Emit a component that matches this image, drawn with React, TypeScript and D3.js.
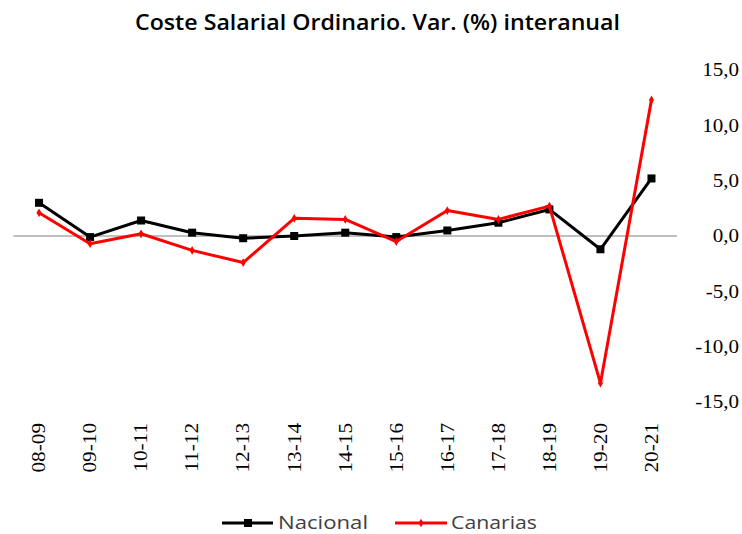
import React from 'react';
import * as d3 from 'd3';

const categories = ['08-09', '09-10', '10-11', '11-12', '12-13', '13-14', '14-15', '15-16', '16-17', '17-18', '18-19', '19-20', '20-21'];
const nacional = [3.0, -0.1, 1.4, 0.3, -0.2, 0.0, 0.3, -0.1, 0.5, 1.2, 2.4, -1.2, 5.2];
const canarias = [2.1, -0.7, 0.2, -1.3, -2.4, 1.6, 1.5, -0.5, 2.3, 1.5, 2.7, -13.3, 12.3];
const yTicks = [15, 10, 5, 0, -5, -10, -15];

const W = 742;
const H = 534;
const serif = "'Liberation Serif', 'DejaVu Serif', serif";
const sans = "'Open Sans', Lato, sans-serif";

export default function App() {
  const x = d3.scalePoint<string>()
    .domain(categories)
    .range([13.5, 677])
    .padding(0.5);

  const y = d3.scaleLinear().domain([-15, 15]).range([402, 70]);

  const line = d3.line<number>()
    .x((_, i) => x(categories[i]) as number)
    .y(d => y(d));

  const fmt = (v: number) => v.toFixed(1).replace('.', ',');
  const diamond = d3.symbol(d3.symbolDiamond, 22)() || '';

  return (
    <svg width={W} height={H} style={{ position: 'absolute', left: 0, top: 0, background: '#fff' }}>
      <text x={377.5} y={30} textAnchor="middle" fontFamily={sans} fontWeight={600} fontSize={21.5}
        textLength={485} lengthAdjust="spacingAndGlyphs" fill="#000">
        Coste Salarial Ordinario. Var. (%) interanual
      </text>

      {/* zero line */}
      <line x1={13.5} x2={677} y1={y(0)} y2={y(0)} stroke="#808080" strokeWidth={1} />

      {/* y labels on the right */}
      {yTicks.map(t => (
        <text key={t} transform={`translate(739,${y(t)}) scale(1.17,1)`} dy="0.35em" textAnchor="end"
          fontFamily={serif} fontSize={18} fill="#000">
          {fmt(t)}
        </text>
      ))}

      {/* x labels */}
      {categories.map(c => (
        <text key={c} transform={`translate(${x(c)},423) rotate(-90) scale(1.18,1)`} dy="0.35em" textAnchor="end"
          fontFamily={serif} fontSize={18} fill="#000">
          {c}
        </text>
      ))}

      {/* Nacional */}
      <path d={line(nacional) || ''} fill="none" stroke="#000" strokeWidth={3} strokeLinejoin="round" />
      {nacional.map((v, i) => (
        <rect key={i} x={(x(categories[i]) as number) - 4} y={y(v) - 4} width={8} height={8} fill="#000" />
      ))}

      {/* Canarias */}
      <path d={line(canarias) || ''} fill="none" stroke="#ff0000" strokeWidth={3} strokeLinejoin="round" />
      {canarias.map((v, i) => (
        <path key={i} d={diamond} transform={`translate(${x(categories[i])},${y(v)})`} fill="#ff0000" />
      ))}

      {/* legend */}
      <line x1={222} x2={273} y1={523} y2={523} stroke="#000" strokeWidth={3} />
      <rect x={244} y={519} width={8} height={8} fill="#000" />
      <text x={278} y={529} fontFamily={sans} fontSize={18.5} textLength={90} lengthAdjust="spacingAndGlyphs" fill="#404040">Nacional</text>
      <line x1={395} x2={447} y1={523} y2={523} stroke="#ff0000" strokeWidth={3} />
      <path d={diamond} transform="translate(421,523)" fill="#ff0000" />
      <text x={451} y={529} fontFamily={sans} fontSize={18.5} textLength={86} lengthAdjust="spacingAndGlyphs" fill="#404040">Canarias</text>
    </svg>
  );
}
